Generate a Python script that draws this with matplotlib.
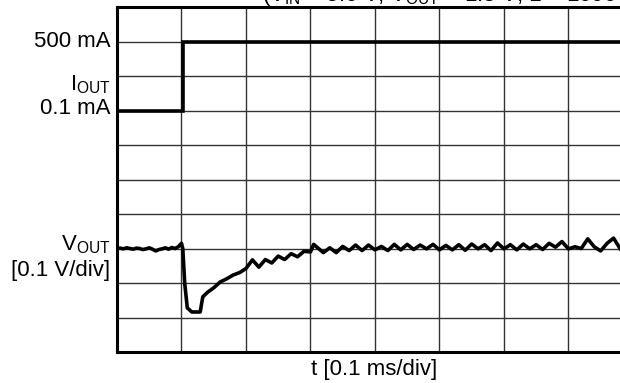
import matplotlib
matplotlib.use("Agg")
import matplotlib.pyplot as plt

plt.rcParams['font.family'] = ['Liberation Sans', 'DejaVu Sans']
plt.rcParams['mathtext.default'] = 'regular'

# Data in screen divisions (x: 0.1 ms/div, y: divisions from bottom)
iout_t = [0.0, 1.02, 1.02, 7.8]
iout_div = [7.0, 7.0, 9.0, 9.0]

vout_t = [0.0, 0.05, 0.1, 0.15, 0.2, 0.25, 0.3, 0.35, 0.4, 0.45, 0.5, 0.55, 0.6, 0.65,
          0.7, 0.75, 0.8, 0.85, 0.9, 0.95, 1.0, 1.02, 1.05, 1.09, 1.16, 1.29,
          1.33, 1.41, 1.5, 1.6, 1.7, 1.8, 1.9, 2.0, 2.1, 2.2, 2.3, 2.4, 2.5,
          2.6, 2.7, 2.8, 2.9, 3.0, 3.05, 3.2,
          3.3, 3.4, 3.5, 3.6, 3.7, 3.8, 3.9, 4.0, 4.1, 4.2, 4.3, 4.4, 4.5, 4.6, 4.7,
          4.8, 4.9, 5.0, 5.1, 5.2, 5.3, 5.4, 5.5, 5.6, 5.7, 5.8, 5.9, 6.0, 6.1, 6.2,
          6.3, 6.4, 6.5, 6.6, 6.7, 6.8, 6.9, 7.0, 7.1, 7.2, 7.3, 7.4, 7.5, 7.6, 7.7, 7.8]
vout_div = [3.0, 3.01, 2.99, 3.02, 3.0, 2.98, 3.01, 3.0, 2.97, 2.99, 3.02, 2.98, 2.93, 2.97,
            2.99, 3.02, 2.98, 3.03, 3.0, 3.05, 3.15, 3.0, 1.99, 1.28, 1.16, 1.16,
            1.6, 1.74, 1.86, 2.03, 2.12, 2.23, 2.3, 2.42, 2.67, 2.46, 2.68, 2.58, 2.78,
            2.68, 2.85, 2.76, 2.92, 2.9, 3.12, 2.88,
            3.02, 2.88, 3.06, 2.94, 3.1, 2.94, 3.1, 2.96, 3.06, 2.94, 3.12, 2.96, 3.12, 2.97, 3.1,
            2.99, 3.12, 2.96, 3.09, 2.96, 3.11, 2.95, 3.13, 2.99, 3.11, 2.94, 3.16, 2.99, 3.11, 2.96,
            3.13, 2.99, 3.11, 2.97, 3.15, 3.04, 3.2, 2.99, 3.05, 3.0, 3.28, 3.05, 2.93, 3.15, 3.3, 3.0]

fig = plt.figure(figsize=(6.2, 3.83), dpi=100)
ax = fig.add_axes([117/620, 31/383, 503/620, 345/383])

ax.set_xlim(0, 7.8)
ax.set_ylim(0, 10)
ax.set_xticks(range(0, 8))
ax.set_yticks(range(0, 11))
ax.grid(True, color='#333333', linewidth=1.0)
ax.tick_params(length=0, labelbottom=False, labelleft=False)
for s in ['left', 'bottom', 'top']:
    ax.spines[s].set_linewidth(2.2)
    ax.spines[s].set_color('black')
ax.spines['right'].set_visible(False)

ax.plot(iout_t, iout_div, color='black', linewidth=2.6, solid_joinstyle='miter')
ax.plot(vout_t, vout_div, color='black', linewidth=2.6)

fs = 16
ax.text(-0.1, 9.0, '500 mA', ha='right', va='center', fontsize=fs)
ax.text(-0.1, 7.75, r'$I_{OUT}$', ha='right', va='center', fontsize=fs)
ax.text(-0.1, 7.05, '0.1 mA', ha='right', va='center', fontsize=fs)
ax.text(-0.1, 3.1, r'$V_{OUT}$', ha='right', va='center', fontsize=fs)
ax.text(-0.1, 2.35, '[0.1 V/div]', ha='right', va='center', fontsize=fs)

fig.text(374/620, 1 - 370/383, 't [0.1 ms/div]', ha='center', va='center', fontsize=fs)

fig.text(262/620, 1 - 1/383, r'(V$_{IN}$ = 3.6 V, V$_{OUT}$ = 1.8 V, L = 1000 nH)',
         ha='left', va='baseline', fontsize=fs)

fig.savefig('out.png', dpi=100, facecolor='white')
